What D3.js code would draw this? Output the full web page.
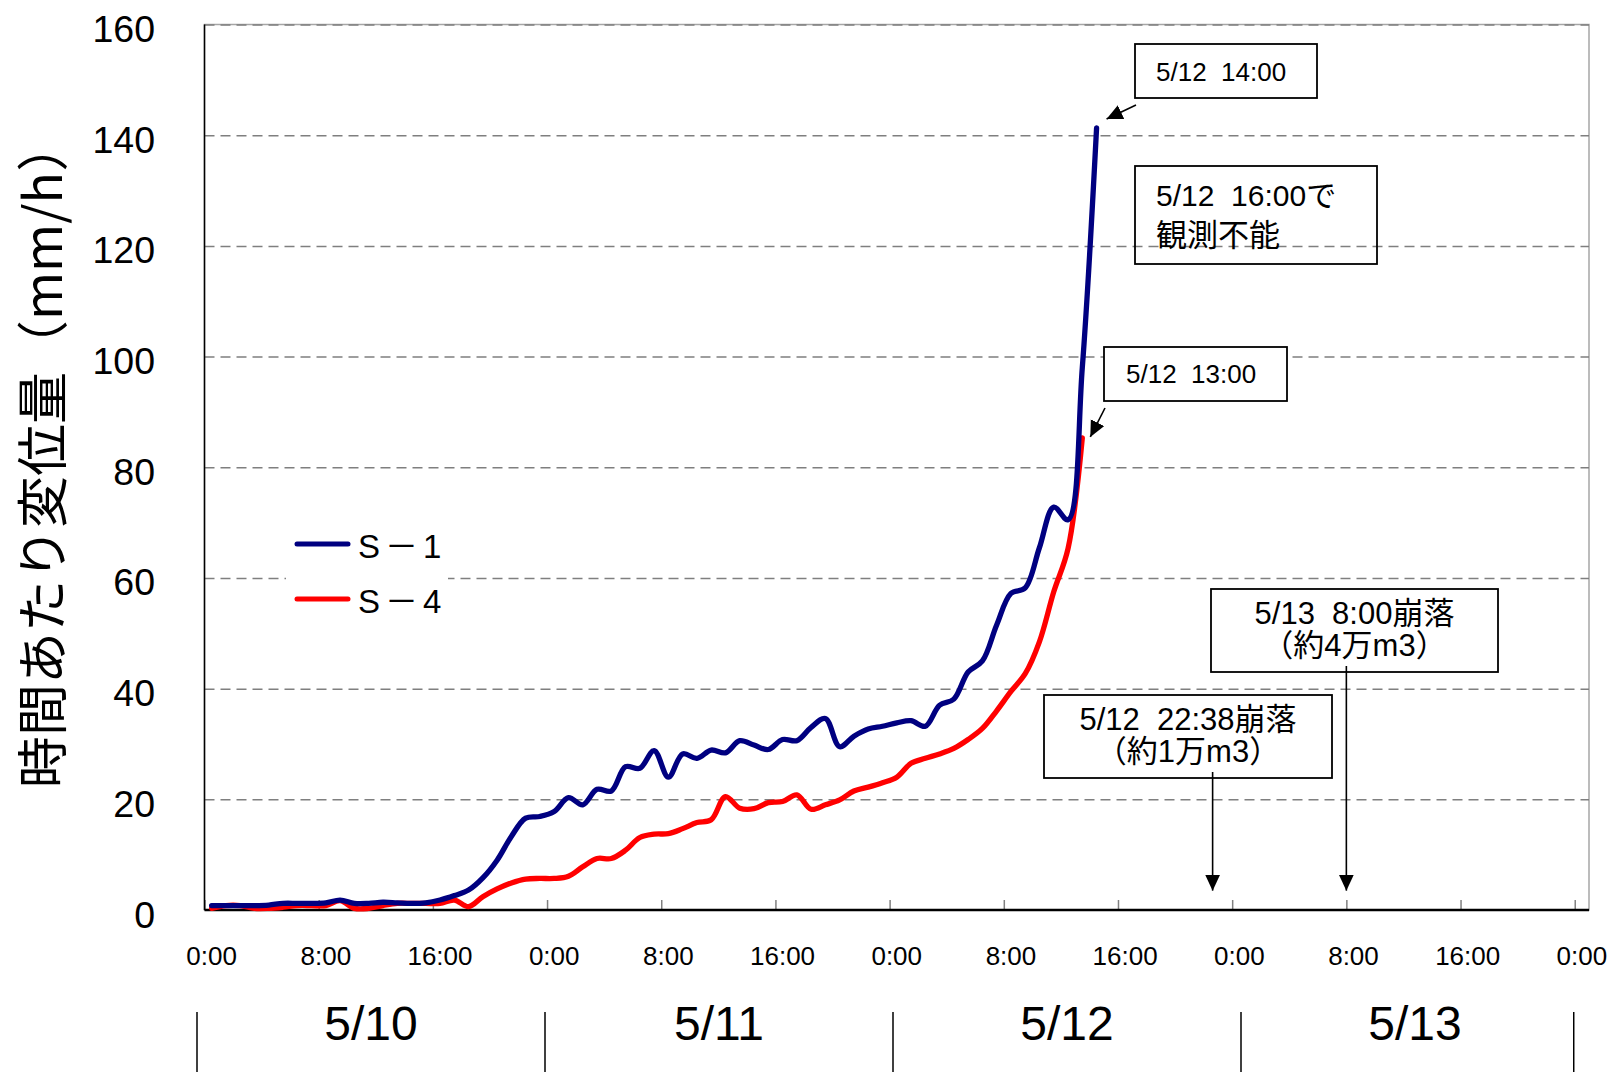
<!DOCTYPE html>
<html><head><meta charset="utf-8">
<script src="https://cdn.jsdelivr.net/npm/d3@7"></script>
<style>
body{margin:0;background:#fff}
svg{display:block}
text{font-family:"Liberation Sans","Noto Sans CJK JP",sans-serif;fill:#000}
.cjk{font-family:"Noto Sans CJK JP",sans-serif}
</style>
</head><body><svg id="c" width="1612" height="1072"></svg>
<script>
// ---------- data ----------
const hourTicks = [0, 8, 16, 24, 32, 40, 48, 56, 64, 72, 80, 88, 96];
const tickLabels = ["0:00","8:00","16:00","0:00","8:00","16:00","0:00","8:00","16:00","0:00","8:00","16:00","0:00"];
const dayLabels = ["5/10", "5/11", "5/12", "5/13"];
const yTicks = [0, 20, 40, 60, 80, 100, 120, 140, 160];
const seriesNames = ["S－1", "S－4"];
const seriesColors = ["#000080", "#ff0000"];
// hourly values from 5/10 0:00 (index = hour)
const s1Values = [0.8,0.8,0.8,0.8,0.9,1.2,1.2,1.2,1.3,1.8,
  1.2,1.2,1.4,1.3,1.2,1.3,1.8,2.6,3.6,5.8,
  9.0,13.3,16.6,16.9,17.8,20.3,19.0,21.8,21.5,25.9,
  25.6,28.8,24.0,28.2,27.4,28.9,28.4,30.6,29.8,29.0,
  30.8,30.6,33.0,34.6,29.5,31.4,32.7,33.2,33.8,34.2,
  33.2,37.0,38.1,43.0,45.0,51.5,57.2,58.2,65.5,72.8,
  70.5,98.0,141.3];
const s4Values = [0.3,0.8,0.8,0.3,0.3,0.5,0.8,0.8,0.8,1.7,
  0.3,0.3,0.8,1.2,1.2,1.2,1.2,1.8,0.6,2.4,
  3.8,4.9,5.6,5.7,5.7,6.1,7.8,9.3,9.3,10.8,
  13.1,13.7,13.8,14.7,15.8,16.3,20.5,18.4,18.3,19.4,
  19.6,20.8,18.2,19.0,19.9,21.5,22.2,23.0,24.0,26.5,
  27.4,28.2,29.2,30.8,32.8,36.0,39.5,42.7,48.5,57.5,
  65.3,85.3];
const collapseHours = [70.63, 80];           // 5/12 22:38, 5/13 8:00
const collapseLine1 = ["5/12  22:38崩落", "5/13  8:00崩落"];
const collapseLine2 = ["（約1万m3）", "（約4万m3）"];

// ---------- scales ----------
const svg = d3.select("#c");
const L = 204.5, R = 1589, T = 24.5, B = 910;
const x = d3.scaleLinear().domain([0, 97]).range([L, R]);
const y = d3.scaleLinear().domain([0, 160]).range([B, T]);
const dayX = d3.scaleLinear().domain([0, 4]).range([197, 1589]);

svg.append("rect").attr("width",1612).attr("height",1072).attr("fill","#fff");

// plot border (gray top/right)
svg.append("rect").attr("x",L).attr("y",T).attr("width",R-L).attr("height",B-T)
  .attr("fill","none").attr("stroke","#a6a6a6").attr("stroke-width",1.5);

// gridlines
const grid = d3.axisLeft(y).tickValues(yTicks.slice(1)).tickSize(-(R-L)).tickFormat("");
const gG = svg.append("g").attr("transform",`translate(${L},0)`).call(grid);
gG.select(".domain").remove();
gG.selectAll("line").attr("stroke","#7f7f7f").attr("stroke-width",1.5).attr("stroke-dasharray","10,6");

// y tick labels
const yAx = d3.axisLeft(y).tickValues(yTicks).tickSize(0).tickPadding(0);
const yG = svg.append("g").attr("transform",`translate(155,0)`).call(yAx);
yG.select(".domain").remove();
yG.selectAll("text").attr("font-size",37.5).attr("font-family","Liberation Sans")
  .attr("dy",null).attr("y",17).attr("x",0).attr("text-anchor","end").attr("fill","#000");

// x ticks (category boundaries)
const xAx = d3.axisBottom(x).tickValues(hourTicks).tickSize(-10).tickFormat("");
const xG = svg.append("g").attr("transform",`translate(0,${B})`).call(xAx);
xG.select(".domain").remove();
xG.selectAll("line").attr("stroke","#808080").attr("stroke-width",1.5);

// x tick labels (category centres)
svg.append("g").selectAll("text").data(hourTicks).join("text")
  .attr("x", d => x(d + 0.5)).attr("y", 965)
  .attr("text-anchor","middle").attr("font-size",26)
  .text((d,i) => tickLabels[i]);

// axes lines
svg.append("line").attr("x1",L).attr("x2",L).attr("y1",T).attr("y2",B).attr("stroke","#000").attr("stroke-width",1.5);
svg.append("line").attr("x1",L).attr("x2",R).attr("y1",B).attr("y2",B).attr("stroke","#000").attr("stroke-width",2.5);

// day separators and labels
svg.append("g").selectAll("line").data(d3.range(dayLabels.length + 1)).join("line")
  .attr("x1", d => d < dayLabels.length ? dayX(d) : x(96) - 1)
  .attr("x2", d => d < dayLabels.length ? dayX(d) : x(96) - 1)
  .attr("y1", 1012).attr("y2", 1072).attr("stroke","#000").attr("stroke-width",1.5);
svg.append("g").selectAll("text").data(dayLabels).join("text")
  .attr("x", (d,i) => dayX(i + 0.5)).attr("y", 1040)
  .attr("text-anchor","middle").attr("font-size",48).text(d => d);

// axis title
svg.append("text").attr("class","cjk")
  .attr("transform","translate(39,454) rotate(-90)")
  .attr("text-anchor","middle").attr("dominant-baseline","central")
  .attr("font-size",52).text("時間あたり変位量（mm/h）");

// legend (white box hides grid)
svg.append("rect").attr("x",286).attr("y",515).attr("width",162).attr("height",115).attr("fill","#fff");
seriesNames.forEach((n,i) => {
  const ly = 544 + i*55;
  svg.append("line").attr("x1",297).attr("x2",348).attr("y1",ly).attr("y2",ly)
    .attr("stroke",seriesColors[i]).attr("stroke-width",5).attr("stroke-linecap","round");
  svg.append("text").attr("x",358).attr("y",ly+14).attr("font-size",33)
    .attr("letter-spacing",5).text(n);
});

// series lines
const line = d3.line().x((d,i) => x(i + 0.5)).y(d => y(d)).curve(d3.curveCatmullRom.alpha(0.5));
[s4Values, s1Values].forEach((vals, k) => {
  svg.append("path").datum(vals).attr("d", line).attr("fill","none")
    .attr("stroke", k === 0 ? seriesColors[1] : seriesColors[0])
    .attr("stroke-width",5.3).attr("stroke-linecap","round").attr("stroke-linejoin","round");
});

// arrow marker
const defs = svg.append("defs");
defs.append("marker").attr("id","ah").attr("markerUnits","userSpaceOnUse")
  .attr("markerWidth",17).attr("markerHeight",16).attr("refX",16).attr("refY",7.5)
  .attr("orient","auto").append("path").attr("d","M0,0 L16,7.5 L0,15 Z").attr("fill","#000");

function box(x0, y0, w, h, fill) {
  svg.append("rect").attr("x",x0).attr("y",y0).attr("width",w).attr("height",h)
    .attr("fill",fill).attr("stroke","#000").attr("stroke-width",1.8);
}
function arrow(x1,y1,x2,y2) {
  svg.append("line").attr("x1",x1).attr("y1",y1).attr("x2",x2).attr("y2",y2)
    .attr("stroke","#000").attr("stroke-width",1.6).attr("marker-end","url(#ah)");
}

// end-point annotations
const endS1 = [x(s1Values.length - 0.5), y(s1Values[s1Values.length-1])];
const endS4 = [x(s4Values.length - 0.5), y(s4Values[s4Values.length-1])];
box(1135, 44, 182, 54, "#fff");
svg.append("text").attr("x",1156).attr("y",81).attr("font-size",26).style("white-space","pre").text("5/12  14:00");
arrow(1136, 105, endS1[0] + 10, endS1[1] - 9);

box(1135, 166, 242, 98, "none");
svg.append("text").attr("x",1156).attr("y",206).attr("font-size",30).style("white-space","pre").text("5/12  16:00で");
svg.append("text").attr("x",1156).attr("y",246).attr("font-size",31).text("観測不能");

box(1104, 347, 183, 54, "#fff");
svg.append("text").attr("x",1126).attr("y",383).attr("font-size",26).style("white-space","pre").text("5/12  13:00");
arrow(1105, 408, endS4[0] + 8, endS4[1] - 1);

// collapse annotations
const cBoxes = [[1044, 695, 288, 83], [1211, 589, 287, 83]];
collapseHours.forEach((h, i) => {
  const [bx, by, bw, bh] = cBoxes[i];
  box(bx, by, bw, bh, "#fff");
  const cx = bx + bw/2;
  svg.append("text").attr("x",cx).attr("y",by+35).attr("text-anchor","middle").attr("font-size",31)
    .style("white-space","pre").text(collapseLine1[i]);
  svg.append("text").attr("x",cx).attr("y",by+67).attr("text-anchor","middle").attr("font-size",31)
    .text(collapseLine2[i]);
  arrow(x(h), by + bh - 6, x(h), y(3.5));
});
</script>
</body></html>
